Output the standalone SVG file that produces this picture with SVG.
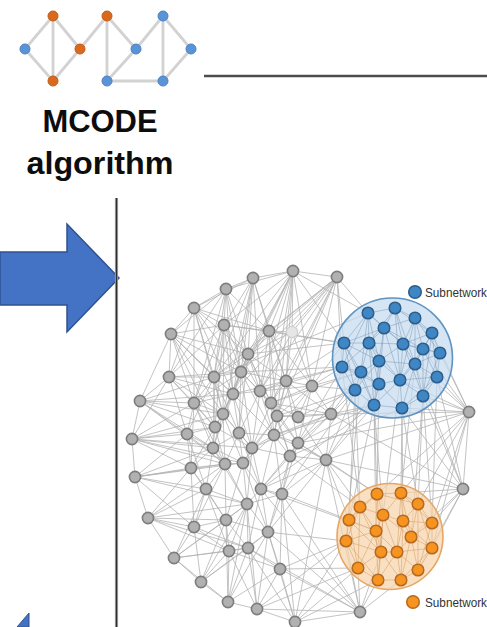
<svg xmlns="http://www.w3.org/2000/svg" width="487" height="627" viewBox="0 0 487 627">
<style>
.ie{stroke:#d2d2d2;stroke-width:2.8;fill:none}
.io{fill:#d9691f;stroke:#c25a14;stroke-width:1}
.ib{fill:#5a93d6;stroke:#4a82c4;stroke-width:1}
.lbl{font-family:"Liberation Sans",Arial,sans-serif;font-weight:bold;font-size:31px;fill:#0d0d0d}
.sepo{stroke:#a8a8a8;stroke-width:3.2;fill:none}
.sepi{stroke:#2e2e2e;stroke-width:1.4;fill:none}
.ge{stroke:#b0b0b0;stroke-width:0.9;opacity:0.85;fill:none}
.be{stroke:#7f9bb6;stroke-width:0.8;opacity:0.65;fill:none}
.oe{stroke:#d59a5e;stroke-width:0.8;opacity:0.65;fill:none}
.gn{fill:#b1b1b1;stroke:#7d7d7d;stroke-width:1.6}
.gf{fill:#e6e6e6;stroke:#d0d0d0;stroke-width:1.2}
.bn{fill:#3f86c4;stroke:#2b5e8c;stroke-width:1.5}
.on{fill:#f7931f;stroke:#b46a22;stroke-width:1.5}
.leg{font-family:"Liberation Sans",Arial,sans-serif;font-size:12px;fill:#333}
</style>
<defs>
<filter id="soft" x="-10%" y="-10%" width="120%" height="120%"><feGaussianBlur stdDeviation="0.7"/></filter>
</defs>
<rect width="487" height="627" fill="#fff"/>

<g id="mcode-icon" filter="url(#soft)">
<path class="ie" d="M25 49L53 16M25 49L53 81M53 16L53 81M53 16L80 49M53 81L80 49M80 49L107 16M107 16L107 81M107 16L136 49M136 49L107 81M136 49L163 16M163 16L163 81M163 16L191 49M191 49L163 81M107 81L163 81"/>
<circle class="io" cx="53" cy="16" r="5"/>
<circle class="ib" cx="25" cy="49" r="5"/>
<circle class="io" cx="80" cy="49" r="5"/>
<circle class="io" cx="53" cy="81" r="5"/>
<circle class="io" cx="107" cy="16" r="5"/>
<circle class="ib" cx="136" cy="49" r="5"/>
<circle class="ib" cx="107" cy="81" r="5"/>
<circle class="ib" cx="163" cy="16" r="5"/>
<circle class="ib" cx="191" cy="49" r="5"/>
<circle class="ib" cx="163" cy="81" r="5"/>
</g>

<g id="mcode-label">
<text class="lbl" x="100" y="132" text-anchor="middle" textLength="115" lengthAdjust="spacingAndGlyphs">MCODE</text>
<text class="lbl" x="100" y="174" text-anchor="middle" textLength="147" lengthAdjust="spacingAndGlyphs">algorithm</text>
</g>

<g id="arrow">
<polygon points="0,252 67,252 67,224 119,278 67,332 67,305 0,305" fill="#4472c4" stroke="#2f528f" stroke-width="1.5"/>
</g>
<g id="arrow-bottom">
<polygon points="17,627 29,613 29,627" fill="#4472c4" stroke="#2f528f" stroke-width="1"/>
</g>

<g id="separators">
<path class="sepo" d="M204 76H487M116.5 198V627"/>
<path class="sepi" d="M204 76H487M116.5 198V627"/>
</g>

<g id="network">
<g id="network-edges">
<path class="ge" d="M293 271L226 289M293 271L224 325M293 271L269 331M293 271L248 354M293 271L241 372M293 271L214 377M293 271L233 394M293 271L260 391M293 271L286 381M293 271L292 332M293 271L253 278M293 271L337 277M293 271L368 313M293 271L344 343M293 271L312 386M293 271L271 403M293 271L277 416
M253 278L226 289M253 278L224 325M253 278L269 331M253 278L248 354M253 278L241 372M253 278L214 377M253 278L233 394M253 278L286 381M253 278L194 308M253 278L260 391M253 278L223 414
M226 289L194 308M226 289L224 325M226 289L171 334M226 289L248 354M226 289L241 372M226 289L214 377M226 289L233 394M226 289L194 403M226 289L269 331M226 289L169 377
M194 308L224 325M194 308L171 334M194 308L169 377M194 308L214 377M194 308L248 354M194 308L241 372M194 308L233 394M194 308L194 403M194 308L223 414M194 308L269 331
M224 325L171 334M224 325L248 354M224 325L241 372M224 325L214 377M224 325L233 394M224 325L260 391M224 325L269 331M224 325L169 377M224 325L194 403M224 325L223 414M224 325L215 427
M269 331L248 354M269 331L241 372M269 331L286 381M269 331L260 391M269 331L271 403M269 331L292 332M269 331L312 386M269 331L277 416M269 331L344 343
M292 332L286 381M292 332L248 354M292 332L312 386M292 332L260 391M292 332L337 277
M171 334L169 377M171 334L214 377M171 334L241 372M171 334L248 354M171 334L233 394M171 334L140 401M171 334L194 403M171 334L223 414M171 334L215 427
M337 277L269 331M337 277L248 354M337 277L286 381M337 277L241 372M337 277L260 391M337 277L271 403M337 277L312 386M337 277L214 377M337 277L368 313M337 277L344 343M337 277L342 367M337 277L233 394M337 277L277 416
M169 377L140 401M169 377L194 403M169 377L214 377M169 377L233 394M169 377L223 414M169 377L215 427M169 377L132 439M169 377L241 372M169 377L187 434
M140 401L194 403M140 401L223 414M140 401L215 427M140 401L132 439M140 401L187 434M140 401L213 448M140 401L214 377M140 401L233 394M140 401L225 464
M132 439L187 434M132 439L213 448M132 439L215 427M132 439L225 464M132 439L191 468M132 439L135 477M132 439L223 414M132 439L194 403M132 439L252 448M132 439L243 463
M135 477L191 468M135 477L206 489M135 477L225 464M135 477L213 448M135 477L187 434M135 477L148 518M135 477L243 463M135 477L194 527M135 477L247 504
M148 518L194 527M148 518L226 520M148 518L206 489M148 518L229 551M148 518L174 558M148 518L191 468M148 518L247 504M148 518L248 548M148 518L225 464
M174 558L194 527M174 558L229 551M174 558L201 582M174 558L226 520M174 558L248 548M174 558L206 489M174 558L247 504M174 558L228 602
M201 582L229 551M201 582L248 548M201 582L228 602M201 582L226 520M201 582L194 527M201 582L268 532M201 582L247 504
M228 602L229 551M228 602L248 548M228 602L257 609M228 602L268 532M228 602L247 504M228 602L226 520M228 602L280 569
M257 609L248 548M257 609L280 569M257 609L268 532M257 609L295 622M257 609L247 504M257 609L229 551M257 609L346 541M257 609L358 568
M295 622L280 569M295 622L268 532M295 622L358 568M295 622L378 580M295 622L346 541M295 622L326 460M295 622L282 494M295 622L248 548
M360 612L358 568M360 612L378 580M360 612L401 580M360 612L381 552M360 612L280 569M360 612L268 532M360 612L326 460M360 612L282 494M360 612L346 541M360 612L295 622M360 612L257 609M360 612L261 489M360 612L248 548
M469 412L440 353M469 412L437 377M469 412L423 396M469 412L415 364M469 412L402 408M469 412L423 349M469 412L463 489M469 412L418 504M469 412L432 523M469 412L432 548M469 412L331 414M469 412L326 460M469 412L298 443M469 412L400 380M469 412L401 493M469 412L432 333M469 412L377 494
M463 489L432 523M463 489L418 504M463 489L432 548M463 489L423 396M463 489L437 377M463 489L402 408M463 489L326 460M463 489L411 537M463 489L331 414M463 489L401 493M463 489L418 570M463 489L415 364
M326 460L331 414M326 460L298 443M326 460L290 456M326 460L282 494M326 460L261 489M326 460L377 494M326 460L360 507M326 460L349 520M326 460L355 390M326 460L374 405M326 460L298 417M326 460L274 435M326 460L379 384M326 460L268 532
M331 414L312 386M331 414L298 417M331 414L298 443M331 414L277 416M331 414L274 435M331 414L342 367M331 414L355 390M331 414L361 372M331 414L290 456M331 414L286 381M331 414L374 405M331 414L271 403M331 414L252 448
M312 386L286 381M312 386L271 403M312 386L277 416M312 386L298 417M312 386L342 367M312 386L344 343M312 386L361 372M312 386L260 391M312 386L355 390M312 386L298 443M312 386L274 435
M248 354L241 372M248 354L214 377M248 354L286 381M248 354L233 394M248 354L260 391M248 354L271 403M248 354L223 414M248 354L277 416M248 354L239 433
M241 372L214 377M241 372L286 381M241 372L233 394M241 372L260 391M241 372L194 403M241 372L271 403M241 372L223 414M241 372L239 433M241 372L274 435M241 372L252 448
M214 377L233 394M214 377L194 403M214 377L223 414M214 377L215 427M214 377L239 433M214 377L187 434M214 377L213 448
M286 381L260 391M286 381L271 403M286 381L277 416M286 381L298 417M286 381L274 435M286 381L298 443
M233 394L260 391M233 394L194 403M233 394L223 414M233 394L215 427M233 394L239 433M233 394L274 435M233 394L252 448M233 394L213 448
M260 391L271 403M260 391L277 416M260 391L239 433M260 391L274 435M260 391L252 448
M194 403L223 414M194 403L215 427M194 403L187 434M194 403L213 448M194 403L225 464M194 403L191 468
M271 403L277 416M271 403L298 417M271 403L274 435M271 403L298 443M271 403L290 456M271 403L252 448
M223 414L215 427M223 414L239 433M223 414L213 448M223 414L252 448M223 414L225 464M223 414L243 463
M277 416L298 417M277 416L274 435M277 416L298 443M277 416L252 448M277 416L290 456M277 416L243 463
M215 427L187 434M215 427L213 448M215 427L225 464M215 427L191 468M215 427L252 448
M239 433L274 435M239 433L213 448M239 433L252 448M239 433L225 464M239 433L243 463M239 433L261 489
M274 435L298 443M274 435L252 448M274 435L290 456M274 435L243 463M274 435L261 489M274 435L282 494
M187 434L213 448M187 434L225 464M187 434L191 468M187 434L206 489
M298 443L290 456M298 443L261 489M298 443L282 494
M213 448L225 464M213 448L243 463M213 448L191 468M213 448L206 489M213 448L247 504
M252 448L243 463M252 448L261 489M252 448L247 504M252 448L290 456
M290 456L261 489M290 456L282 494M290 456L268 532
M225 464L243 463M225 464L191 468M225 464L206 489M225 464L247 504M225 464L194 527M225 464L226 520
M243 463L261 489M243 463L247 504M243 463L226 520M243 463L268 532
M191 468L206 489M191 468L194 527M191 468L226 520
M206 489L247 504M206 489L194 527M206 489L226 520M206 489L229 551
M261 489L282 494M261 489L247 504M261 489L268 532M261 489L248 548
M282 494L268 532M282 494L280 569M282 494L247 504
M247 504L226 520M247 504L268 532M247 504L248 548M247 504L229 551
M194 527L226 520M194 527L229 551M194 527L248 548
M226 520L229 551M226 520L248 548M226 520L268 532
M268 532L248 548M268 532L280 569M229 551L248 548M229 551L280 569M248 548L280 569
M248 354L344 343M241 372L342 367M286 381L344 343M260 391L342 367M271 403L361 372M277 416L355 390M298 417L355 390M274 435L374 405M298 443L374 405M290 456L402 408M214 377L368 313M224 325L344 343M233 394L342 367
M355 390L360 507M374 405L377 494M402 408L401 493M423 396L418 504M400 380L383 515M379 384L349 520M361 372L346 541M342 367L360 507M374 405L376 531M402 408L403 521M423 396L411 537M437 377L432 523M415 364L401 493M379 384L377 494M355 390L349 520M374 405L383 515M402 408L418 504M423 396L432 523
M342 367L290 456M355 390L282 494M374 405L261 489M361 372L298 443
M349 520L282 494M346 541L268 532M360 507L290 456M376 531L261 489M346 541L280 569M358 568L280 569M377 494L298 443"/>
</g>

<g id="subnetwork-1">
<circle cx="392.5" cy="358" r="60" fill="#c3daef" fill-opacity="0.7" stroke="#5f93c2" stroke-width="1.6"/>
<path class="be" d="M368 313L395 308M368 313L384 328M368 313L344 343M368 313L369 343M368 313L403 344M368 313L379 361M368 313L361 372
M395 308L415 318M395 308L384 328M395 308L403 344M395 308L432 333M395 308L369 343M395 308L415 364
M415 318L432 333M415 318L403 344M415 318L423 349M415 318L384 328M415 318L440 353M415 318L400 380
M384 328L369 343M384 328L403 344M384 328L379 361M384 328L423 349M384 328L344 343M384 328L379 384
M432 333L423 349M432 333L440 353M432 333L403 344M432 333L415 364M432 333L437 377
M344 343L369 343M344 343L342 367M344 343L361 372M344 343L379 361M344 343L355 390
M369 343L379 361M369 343L361 372M369 343L342 367M369 343L403 344M369 343L400 380M369 343L379 384
M403 344L423 349M403 344L379 361M403 344L415 364M403 344L400 380M403 344L440 353
M423 349L440 353M423 349L415 364M423 349L437 377M423 349L400 380M423 349L423 396
M440 353L437 377M440 353L415 364M440 353L423 396
M379 361L361 372M379 361L400 380M379 361L379 384M379 361L415 364M379 361L355 390M379 361L374 405
M415 364L437 377M415 364L400 380M415 364L423 396M415 364L402 408
M342 367L361 372M342 367L355 390M342 367L379 384
M361 372L379 384M361 372L355 390M361 372L374 405
M437 377L423 396M437 377L400 380M437 377L402 408
M400 380L379 384M400 380L423 396M400 380L402 408M400 380L374 405
M379 384L355 390M379 384L374 405M379 384L402 408
M355 390L374 405M423 396L402 408M374 405L402 408
M368 313L342 367M395 308L400 380M415 318L415 364M344 343L374 405M432 333L423 396M384 328L400 380M369 343L374 405M403 344L423 396"/>
<circle class="bn" cx="368" cy="313" r="5.8"/>
<circle class="bn" cx="395" cy="308" r="5.8"/>
<circle class="bn" cx="415" cy="318" r="5.8"/>
<circle class="bn" cx="384" cy="328" r="5.8"/>
<circle class="bn" cx="432" cy="333" r="5.8"/>
<circle class="bn" cx="344" cy="343" r="5.8"/>
<circle class="bn" cx="369" cy="343" r="5.8"/>
<circle class="bn" cx="403" cy="344" r="5.8"/>
<circle class="bn" cx="423" cy="349" r="5.8"/>
<circle class="bn" cx="440" cy="353" r="5.8"/>
<circle class="bn" cx="379" cy="361" r="5.8"/>
<circle class="bn" cx="415" cy="364" r="5.8"/>
<circle class="bn" cx="342" cy="367" r="5.8"/>
<circle class="bn" cx="361" cy="372" r="5.8"/>
<circle class="bn" cx="437" cy="377" r="5.8"/>
<circle class="bn" cx="400" cy="380" r="5.8"/>
<circle class="bn" cx="379" cy="384" r="5.8"/>
<circle class="bn" cx="355" cy="390" r="5.8"/>
<circle class="bn" cx="423" cy="396" r="5.8"/>
<circle class="bn" cx="374" cy="405" r="5.8"/>
<circle class="bn" cx="402" cy="408" r="5.8"/>
</g>

<g id="subnetwork-2">
<circle cx="390" cy="536.5" r="53" fill="#f8d3a8" fill-opacity="0.7" stroke="#e6a764" stroke-width="1.6"/>
<path class="oe" d="M377 494L401 493M377 494L360 507M377 494L383 515M377 494L349 520M377 494L376 531M377 494L418 504
M401 493L418 504M401 493L383 515M401 493L403 521M401 493L411 537M401 493L432 523
M418 504L403 521M418 504L432 523M418 504L411 537M418 504L432 548
M360 507L383 515M360 507L349 520M360 507L376 531M360 507L346 541M360 507L381 552
M383 515L403 521M383 515L376 531M383 515L411 537M383 515L381 552M383 515L397 552
M349 520L376 531M349 520L346 541M349 520L358 568M349 520L381 552
M403 521L432 523M403 521L411 537M403 521L397 552M403 521L432 548
M432 523L411 537M432 523L432 548M432 523L418 570
M376 531L346 541M376 531L381 552M376 531L397 552M376 531L358 568M376 531L378 580
M411 537L397 552M411 537L432 548M411 537L418 570M411 537L401 580
M346 541L381 552M346 541L358 568M346 541L378 580
M381 552L397 552M381 552L358 568M381 552L378 580M381 552L401 580
M397 552L432 548M397 552L418 570M397 552L401 580M397 552L378 580
M432 548L418 570M432 548L401 580M358 568L378 580M418 570L401 580M378 580L401 580
M377 494L381 552M401 493L397 552M360 507L358 568M418 504L418 570M383 515L378 580M403 521L401 580"/>
<circle class="on" cx="377" cy="494" r="5.8"/>
<circle class="on" cx="401" cy="493" r="5.8"/>
<circle class="on" cx="418" cy="504" r="5.8"/>
<circle class="on" cx="360" cy="507" r="5.8"/>
<circle class="on" cx="383" cy="515" r="5.8"/>
<circle class="on" cx="349" cy="520" r="5.8"/>
<circle class="on" cx="403" cy="521" r="5.8"/>
<circle class="on" cx="432" cy="523" r="5.8"/>
<circle class="on" cx="376" cy="531" r="5.8"/>
<circle class="on" cx="411" cy="537" r="5.8"/>
<circle class="on" cx="346" cy="541" r="5.8"/>
<circle class="on" cx="381" cy="552" r="5.8"/>
<circle class="on" cx="397" cy="552" r="5.8"/>
<circle class="on" cx="432" cy="548" r="5.8"/>
<circle class="on" cx="358" cy="568" r="5.8"/>
<circle class="on" cx="418" cy="570" r="5.8"/>
<circle class="on" cx="378" cy="580" r="5.8"/>
<circle class="on" cx="401" cy="580" r="5.8"/>
</g>

<g id="gray-nodes">
<circle class="gn" cx="293" cy="271" r="5.6"/>
<circle class="gn" cx="253" cy="278" r="5.6"/>
<circle class="gn" cx="226" cy="289" r="5.6"/>
<circle class="gn" cx="194" cy="308" r="5.6"/>
<circle class="gn" cx="224" cy="325" r="5.6"/>
<circle class="gn" cx="269" cy="331" r="5.6"/>
<circle class="gf" cx="292" cy="332" r="5.6"/>
<circle class="gn" cx="171" cy="334" r="5.6"/>
<circle class="gn" cx="248" cy="354" r="5.6"/>
<circle class="gn" cx="241" cy="372" r="5.6"/>
<circle class="gn" cx="169" cy="377" r="5.6"/>
<circle class="gn" cx="214" cy="377" r="5.6"/>
<circle class="gn" cx="286" cy="381" r="5.6"/>
<circle class="gn" cx="233" cy="394" r="5.6"/>
<circle class="gn" cx="260" cy="391" r="5.6"/>
<circle class="gn" cx="140" cy="401" r="5.6"/>
<circle class="gn" cx="194" cy="403" r="5.6"/>
<circle class="gn" cx="271" cy="403" r="5.6"/>
<circle class="gn" cx="312" cy="386" r="5.6"/>
<circle class="gn" cx="337" cy="277" r="5.6"/>
<circle class="gn" cx="223" cy="414" r="5.6"/>
<circle class="gn" cx="277" cy="416" r="5.6"/>
<circle class="gn" cx="298" cy="417" r="5.6"/>
<circle class="gn" cx="215" cy="427" r="5.6"/>
<circle class="gn" cx="239" cy="433" r="5.6"/>
<circle class="gn" cx="274" cy="435" r="5.6"/>
<circle class="gn" cx="132" cy="439" r="5.6"/>
<circle class="gn" cx="187" cy="434" r="5.6"/>
<circle class="gn" cx="298" cy="443" r="5.6"/>
<circle class="gn" cx="213" cy="448" r="5.6"/>
<circle class="gn" cx="252" cy="448" r="5.6"/>
<circle class="gn" cx="290" cy="456" r="5.6"/>
<circle class="gn" cx="225" cy="464" r="5.6"/>
<circle class="gn" cx="243" cy="463" r="5.6"/>
<circle class="gn" cx="191" cy="468" r="5.6"/>
<circle class="gn" cx="135" cy="477" r="5.6"/>
<circle class="gn" cx="206" cy="489" r="5.6"/>
<circle class="gn" cx="261" cy="489" r="5.6"/>
<circle class="gn" cx="282" cy="494" r="5.6"/>
<circle class="gn" cx="247" cy="504" r="5.6"/>
<circle class="gn" cx="148" cy="518" r="5.6"/>
<circle class="gn" cx="194" cy="527" r="5.6"/>
<circle class="gn" cx="226" cy="520" r="5.6"/>
<circle class="gn" cx="268" cy="532" r="5.6"/>
<circle class="gn" cx="229" cy="551" r="5.6"/>
<circle class="gn" cx="248" cy="548" r="5.6"/>
<circle class="gn" cx="174" cy="558" r="5.6"/>
<circle class="gn" cx="280" cy="569" r="5.6"/>
<circle class="gn" cx="201" cy="582" r="5.6"/>
<circle class="gn" cx="228" cy="602" r="5.6"/>
<circle class="gn" cx="257" cy="609" r="5.6"/>
<circle class="gn" cx="295" cy="622" r="5.6"/>
<circle class="gn" cx="360" cy="612" r="5.6"/>
<circle class="gn" cx="331" cy="414" r="5.6"/>
<circle class="gn" cx="469" cy="412" r="5.6"/>
<circle class="gn" cx="326" cy="460" r="5.6"/>
<circle class="gn" cx="463" cy="489" r="5.6"/>
</g>

<g id="legend-1">
<circle class="bn" cx="415" cy="292" r="6.3"/>
<text class="leg" x="425" y="296.5" textLength="62" lengthAdjust="spacingAndGlyphs">Subnetwork</text>
</g>
<g id="legend-2">
<circle class="on" cx="413" cy="602" r="6.3"/>
<text class="leg" x="425" y="606.5" textLength="62" lengthAdjust="spacingAndGlyphs">Subnetwork</text>
</g>
</g>
</svg>
